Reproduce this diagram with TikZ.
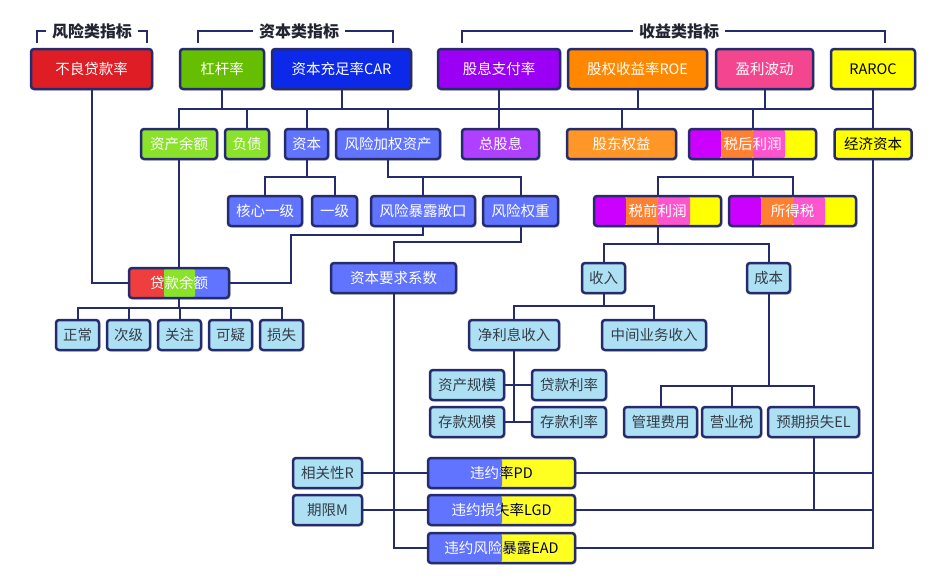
\documentclass[tikz,border=0pt]{standalone}
\usepackage{fontspec}
\setmainfont{Noto Sans CJK SC}
\usepackage{tikz}
\usetikzlibrary{shadows}

\definecolor{lineNavy}{RGB}{38,43,110}
\definecolor{riskRed}{RGB}{222,30,36}
\definecolor{leverGreen}{RGB}{102,190,0}
\definecolor{carBlue}{RGB}{12,40,232}
\definecolor{payPurple}{RGB}{155,0,245}
\definecolor{roeOrange}{RGB}{255,136,0}
\definecolor{volPink}{RGB}{243,70,142}
\definecolor{rarocYellow}{RGB}{255,255,0}
\definecolor{assetGreen}{RGB}{138,226,42}
\definecolor{capBlue}{RGB}{96,116,255}
\definecolor{divPurple}{RGB}{176,64,255}
\definecolor{equityOrange}{RGB}{255,150,40}
\definecolor{stripePurple}{RGB}{204,0,255}
\definecolor{stripeOrange}{RGB}{255,128,48}
\definecolor{stripePink}{RGB}{255,85,204}
\definecolor{loanRed}{RGB}{238,62,62}
\definecolor{leafBlue}{RGB}{174,224,244}
\definecolor{leafText}{RGB}{51,60,72}
\definecolor{headInk}{RGB}{34,36,50}
\definecolor{splitYellow}{RGB}{255,255,34}

\begin{document}
\begin{tikzpicture}[x=1pt,y=-1pt]
	%defines
	\tikzstyle{baseBox} = [rectangle, rounded corners=3pt, inner sep=0pt, text centered, draw=lineNavy, line width=2.5pt, font=\fontsize{14.5}{17}\selectfont, drop shadow={shadow xshift=1.5pt,shadow yshift=-1.5pt,opacity=0.25}]
	\tikzstyle{topBox} = [baseBox, minimum height=40pt, text=white]
	\tikzstyle{midBox} = [baseBox, minimum height=30pt, text=white]
	\tikzstyle{leafBox} = [baseBox, minimum height=30pt, fill=leafBlue, text=leafText]
	\tikzstyle{taxStripes} = [midBox, minimum width=127pt, fill=rarocYellow, path picture={
		\fill[stripePurple] (path picture bounding box.north west) rectangle ++(32pt,-30pt);
		\fill[stripeOrange] ([xshift=32pt]path picture bounding box.north west) rectangle ++(32pt,-30pt);
		\fill[stripePink] ([xshift=64pt]path picture bounding box.north west) rectangle ++(32pt,-30pt);}]
	\tikzstyle{loanStripes} = [midBox, minimum width=100pt, fill=capBlue, path picture={
		\fill[loanRed] (path picture bounding box.north west) rectangle ++(35pt,-30pt);
		\fill[assetGreen] ([xshift=35pt]path picture bounding box.north west) rectangle ++(31pt,-30pt);}]
	\tikzstyle{riskSplit} = [midBox, minimum width=147pt, fill=splitYellow, path picture={
		\fill[capBlue] (path picture bounding box.north west) rectangle ++(74pt,-30pt);}]
	\tikzstyle{headText} = [inner xsep=6pt, inner ysep=0pt, font=\fontsize{16}{18}\selectfont\bfseries, text=headInk]
	\tikzstyle{link} = [draw=lineNavy, line width=2pt]

	\useasboundingbox (0,0) rectangle (940,587);
	\fill[white] (0,0) rectangle (940,587);

	%headers
	\node (riskHead) [headText] at (92,31) {风险类指标};
	\node (capHead) [headText] at (299,31) {资本类指标};
	\node (incomeHead) [headText] at (679,31) {收益类指标};
	\coordinate (riskBrL) at (37,43);
	\coordinate (riskBrR) at (147,43);
	\coordinate (capBrL) at (198,43);
	\coordinate (capBrR) at (393,43);
	\coordinate (incomeBrL) at (462,43);
	\coordinate (incomeBrR) at (885,43);

	%top row
	\node (nplRatio) [topBox, fill=riskRed, minimum width=121pt] at (91.5,69) {不良贷款率};
	\node (leverageRatio) [topBox, fill=leverGreen, minimum width=84pt] at (222,69) {杠杆率};
	\node (carRatio) [topBox, fill=carBlue, minimum width=139pt] at (341.5,69) {资本充足率CAR};
	\node (payoutRatio) [topBox, fill=payPurple, minimum width=122pt] at (499,69) {股息支付率};
	\node (roeRatio) [topBox, fill=roeOrange, minimum width=139pt] at (637.5,69) {股权收益率ROE};
	\node (profitVol) [topBox, fill=volPink, minimum width=97pt] at (764.5,69) {盈利波动};
	\node (raroc) [topBox, fill=rarocYellow, text=black, minimum width=84pt] at (873,69) {RAROC};

	%second row
	\node (assetBal) [midBox, fill=assetGreen, minimum width=76pt] at (179,144) {资产余额};
	\node (liability) [midBox, fill=assetGreen, minimum width=44pt] at (247,144) {负债};
	\node (capital) [midBox, fill=capBlue, minimum width=43pt] at (306.5,144) {资本};
	\node (rwa) [midBox, fill=capBlue, minimum width=104pt] at (388,144) {风险加权资产};
	\node (totalDiv) [midBox, fill=divPurple, minimum width=77pt] at (500.5,144) {总股息};
	\node (equity) [midBox, fill=equityOrange, minimum width=109pt] at (621.5,144) {股东权益};
	\node (netProfit) [taxStripes] at (752.5,144) {税后利润};
	\node (econCapital) [midBox, fill=rarocYellow, text=black, minimum width=77pt] at (873,144) {经济资本};

	%third row
	\node (coreTierOne) [midBox, fill=capBlue, minimum width=74pt] at (265,211) {核心一级};
	\node (tierOne) [midBox, fill=capBlue, minimum width=45pt] at (334.5,211) {一级};
	\node (exposure) [midBox, fill=capBlue, minimum width=104pt] at (423,211) {风险暴露敞口};
	\node (riskWeight) [midBox, fill=capBlue, minimum width=75pt] at (520.5,211) {风险权重};
	\node (preTaxProfit) [taxStripes] at (657.5,211) {税前利润};
	\node (incomeTax) [taxStripes] at (792.5,211) {所得税};

	%fourth row
	\node (loanBal) [loanStripes] at (179,283) {贷款余额};
	\node (capReqCoef) [midBox, fill=capBlue, minimum width=125pt] at (393.5,278) {资本要求系数};
	\node (revenue) [leafBox, minimum width=43pt] at (603.5,278) {收入};
	\node (cost) [leafBox, minimum width=43pt] at (768.5,278) {成本};

	%loan classes and income split
	\node (normal) [leafBox, minimum width=43pt] at (77.5,335) {正常};
	\node (substandard) [leafBox, minimum width=43pt] at (128.5,335) {次级};
	\node (specialMention) [leafBox, minimum width=43pt] at (179.5,335) {关注};
	\node (doubtful) [leafBox, minimum width=43pt] at (230.5,335) {可疑};
	\node (loss) [leafBox, minimum width=43pt] at (281.5,335) {损失};
	\node (netInterest) [leafBox, minimum width=90pt] at (514,335) {净利息收入};
	\node (feeIncome) [leafBox, minimum width=104pt] at (654,335) {中间业务收入};

	%drivers and costs
	\node (assetScale) [leafBox, minimum width=74pt] at (467,385) {资产规模};
	\node (loanRate) [leafBox, minimum width=74pt] at (569,385) {贷款利率};
	\node (depositScale) [leafBox, minimum width=74pt] at (467,422) {存款规模};
	\node (depositRate) [leafBox, minimum width=74pt] at (569,422) {存款利率};
	\node (mgmtCost) [leafBox, minimum width=73pt] at (660.5,422) {管理费用};
	\node (bizTax) [leafBox, minimum width=59pt] at (731.5,422) {营业税};
	\node (expLoss) [leafBox, minimum width=91pt] at (813.5,422) {预期损失EL};

	%risk parameters
	\node (correlation) [leafBox, minimum width=69pt] at (327.5,473) {相关性R};
	\node (maturity) [leafBox, minimum width=69pt] at (327.5,510) {期限M};
	\node (pd) [riskSplit] at (501.5,473) {违约率PD};
	\node (lgd) [riskSplit] at (501.5,510) {违约损失率LGD};
	\node (ead) [riskSplit] at (501.5,548) {违约风险暴露EAD};
	\foreach \nm/\txt in {pd/违约率PD, lgd/违约损失率LGD, ead/违约风险暴露EAD} {
		\begin{scope}
			\clip (\nm.north) rectangle (\nm.south east);
			\node [inner sep=0pt, font=\fontsize{14.5}{17}\selectfont, text=black] at (\nm.center) {\txt};
		\end{scope}
	}

	%header brackets
	\draw[link] (riskHead.west) -| (riskBrL);
	\draw[link] (riskHead.east) -| (riskBrR);
	\draw[link] (capHead.west) -| (capBrL);
	\draw[link] (capHead.east) -| (capBrR);
	\draw[link] (incomeHead.west) -| (incomeBrL);
	\draw[link] (incomeHead.east) -| (incomeBrR);

	%main bus
	\coordinate (mainBusR) at (873,109);
	\draw[link] (assetBal.north) |- (mainBusR);
	\draw[link] (raroc.south) -- (econCapital.north);
	\foreach \topNode in {leverageRatio,carRatio,roeRatio,profitVol}
		\draw[link] (\topNode.south) -- (\topNode.south |- mainBusR);
	\foreach \midNode in {liability,capital,rwa,equity,netProfit}
		\draw[link] (\midNode.north) -- (\midNode.north |- mainBusR);
	\draw[link] (payoutRatio.south) -- (payoutRatio.south |- totalDiv.north);

	%capital side
	\coordinate (capBus) at ([yshift=-17pt]capital.south);
	\draw[link] (coreTierOne.north) |- (capBus) -| (tierOne.north);
	\draw[link] (capital.south) -- (capBus);
	\coordinate (rwaBus) at ([yshift=-17pt]rwa.south);
	\draw[link] (rwa.south) -- (rwaBus) -| (riskWeight.north);
	\draw[link] (exposure.north) -- (exposure.north |- rwaBus);
	\coordinate (expoBend) at (291,235);
	\draw[link] (exposure.south) |- (expoBend) |- (loanBal.east);
	\coordinate (weightBend) at (393.5,242);
	\draw[link] (riskWeight.south) |- (weightBend) -- (capReqCoef.north);

	%loans
	\draw[link] (nplRatio.south) |- (loanBal.west);
	\draw[link] (assetBal.south) -- (loanBal.north);
	\coordinate (loanBus) at ([yshift=-9pt]loanBal.south);
	\draw[link] (normal.north) |- (loanBus) -| (loss.north);
	\draw[link] (loanBal.south) -- (loanBus);
	\foreach \leaf in {substandard,specialMention,doubtful}
		\draw[link] (\leaf.north) -- (\leaf.north |- loanBus);

	%profit side
	\coordinate (profitBus) at ([yshift=-17pt]netProfit.south);
	\draw[link] (preTaxProfit.north) |- (profitBus) -| (incomeTax.north);
	\draw[link] (netProfit.south) -- (profitBus);
	\coordinate (preTaxBus) at ([yshift=-17pt]preTaxProfit.south);
	\draw[link] (revenue.north) |- (preTaxBus) -| (cost.north);
	\draw[link] (preTaxProfit.south) -- (preTaxBus);
	\coordinate (revBus) at ([yshift=-12pt]revenue.south);
	\draw[link] (netInterest.north) |- (revBus) -| (feeIncome.north);
	\draw[link] (revenue.south) -- (revBus);
	\draw[link] (netInterest.south) -- (netInterest.south |- depositScale.east);
	\draw[link] (assetScale.east) -- (loanRate.west);
	\draw[link] (depositScale.east) -- (depositRate.west);
	\coordinate (costBus) at ([yshift=-92pt]cost.south);
	\draw[link] (mgmtCost.north) |- (costBus) -| (expLoss.north);
	\draw[link] (cost.south) -- (costBus);
	\draw[link] (bizTax.north) -- (bizTax.north |- costBus);

	%risk parameters to economic capital
	\draw[link] (capReqCoef.south) |- (ead.west);
	\draw[link] (correlation.east) -- (pd.west);
	\draw[link] (maturity.east) -- (lgd.west);
	\draw[link] (pd.east) -- (pd.east -| econCapital.south);
	\draw[link] (lgd.east) -- (lgd.east -| econCapital.south);
	\draw[link] (econCapital.south) |- (ead.east);
	\draw[link] (expLoss.south) -- (expLoss.south |- lgd.east);
\end{tikzpicture}
\end{document}
